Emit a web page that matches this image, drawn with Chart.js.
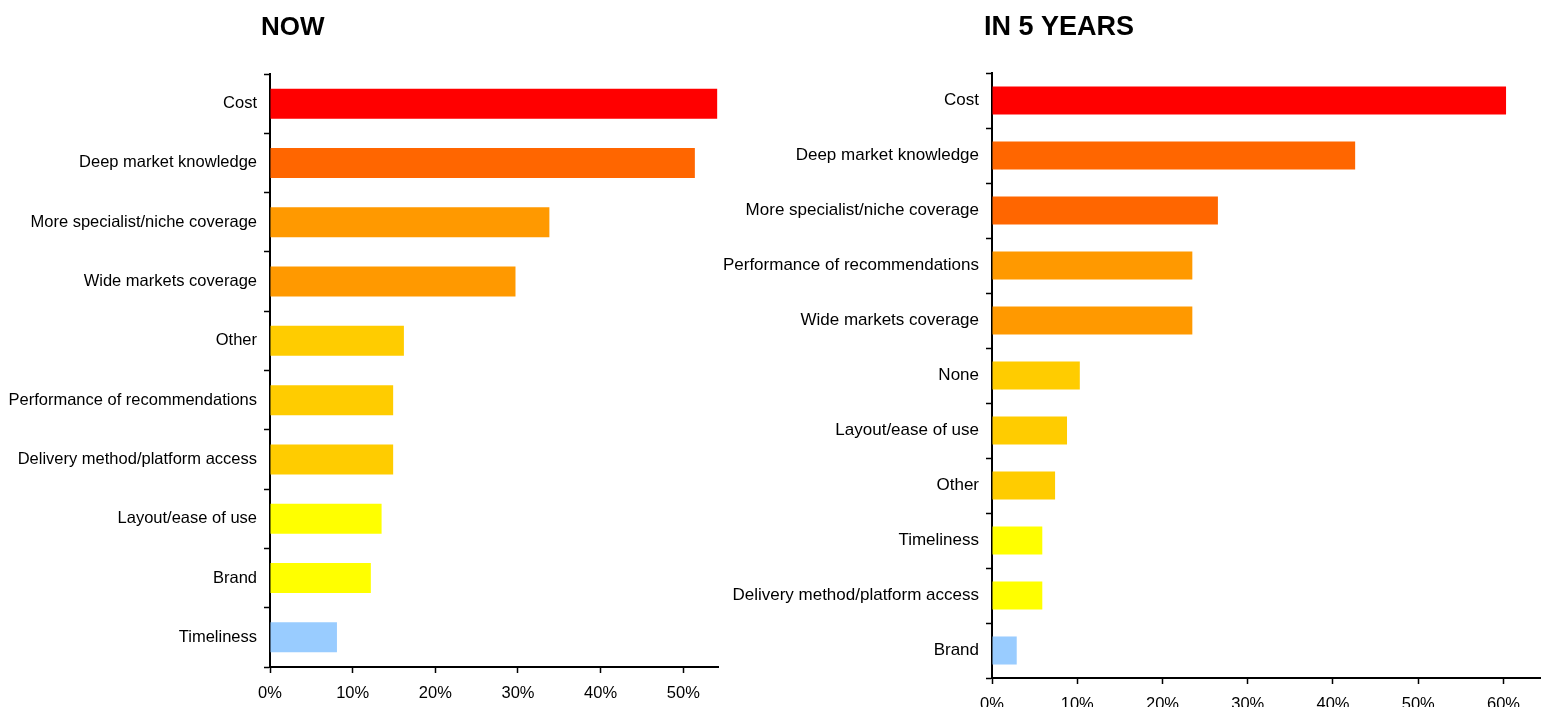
<!DOCTYPE html>
<html>
<head>
<meta charset="utf-8">
<script src="https://cdn.jsdelivr.net/npm/chart.js@4.4.1/dist/chart.umd.min.js"></script>
<style>
  html, body { margin: 0; padding: 0; background: #fff; overflow: hidden; }
  #wrap { position: relative; width: 1541px; height: 707px; }
  .panel { position: absolute; top: 0; }
  #nowPanel { left: 0; }
  #futurePanel { left: 720px; }
</style>
</head>
<body>
<div id="wrap">
  <div class="panel" id="nowPanel"><canvas id="nowChart" width="740" height="707"></canvas></div>
  <div class="panel" id="futurePanel"><canvas id="futureChart" width="821" height="707"></canvas></div>
</div>
<script>
// share of respondents (%), current priorities
const nowLabels = ['Cost', 'Deep market knowledge', 'More specialist/niche coverage', 'Wide markets coverage',
    'Other', 'Performance of recommendations', 'Delivery method/platform access', 'Layout/ease of use',
    'Brand', 'Timeliness'];
const nowValues = [54.1, 51.4, 33.8, 29.7, 16.2, 14.9, 14.9, 13.5, 12.2, 8.1];
const nowColors = ['#ff0000', '#ff6600', '#ff9900', '#ff9900', '#ffcc00', '#ffcc00', '#ffcc00',
    '#ffff00', '#ffff00', '#99ccff'];

// share of respondents (%), priorities expected in five years
const futureLabels = ['Cost', 'Deep market knowledge', 'More specialist/niche coverage',
    'Performance of recommendations', 'Wide markets coverage', 'None', 'Layout/ease of use', 'Other',
    'Timeliness', 'Delivery method/platform access', 'Brand'];
const futureValues = [60.3, 42.6, 26.5, 23.5, 23.5, 10.3, 8.8, 7.4, 5.9, 5.9, 2.9];
const futureColors = ['#ff0000', '#ff6600', '#ff6600', '#ff9900', '#ff9900', '#ffcc00', '#ffcc00',
    '#ffcc00', '#ffff00', '#ffff00', '#99ccff'];

const FONT = '"Liberation Sans", Arial, sans-serif';

// bold heading drawn just left of the plot area
const panelTitle = {
    id: 'panelTitle',
    afterDraw(chart, args, opts) {
        const ctx = chart.ctx;
        ctx.save();
        ctx.font = 'bold ' + opts.size + 'px ' + FONT;
        ctx.fillStyle = '#000';
        ctx.textBaseline = 'alphabetic';
        ctx.textAlign = 'left';
        ctx.fillText(opts.text, chart.chartArea.left + opts.dx, 35);
        ctx.restore();
    }
};

function drawPanel(id, title, labels, values, colors, cfg) {
    const ctx = document.getElementById(id).getContext('2d');
    return new Chart(ctx, {
        type: 'bar',
        data: {
            labels: labels,
            datasets: [{
                data: values,
                backgroundColor: colors,
                borderWidth: 0,
                barPercentage: cfg.barPct,
                categoryPercentage: 1
            }]
        },
        options: {
            indexAxis: 'y',
            responsive: false,
            animation: false,
            layout: {
                padding: { top: cfg.top, right: cfg.right, left: 0, bottom: 0 }
            },
            scales: {
                x: {
                    min: 0,
                    max: cfg.max,
                    afterFit(scale) { scale.height = cfg.xHeight; },
                    ticks: {
                        stepSize: 10,
                        includeBounds: false,
                        padding: 11,
                        color: '#000',
                        font: { family: FONT, size: cfg.tickSize },
                        callback: v => v + '%'
                    },
                    grid: {
                        drawOnChartArea: false,
                        tickLength: 6,
                        tickWidth: 1.5,
                        tickColor: '#000'
                    },
                    border: { color: '#000', width: 2 }
                },
                y: {
                    afterFit(scale) { scale.width = cfg.yWidth; },
                    ticks: {
                        padding: 7,
                        color: '#000',
                        font: { family: FONT, size: cfg.labelSize }
                    },
                    grid: {
                        offset: true,
                        drawOnChartArea: false,
                        tickLength: 6,
                        tickWidth: 1.5,
                        tickColor: '#000'
                    },
                    border: { color: '#000', width: 2 }
                }
            },
            plugins: {
                legend: { display: false },
                tooltip: { enabled: false },
                panelTitle: { text: title, size: cfg.titleSize, dx: cfg.titleDx }
            }
        },
        plugins: [panelTitle]
    });
}

drawPanel('nowChart', 'NOW', nowLabels, nowValues, nowColors, {
    top: 74, right: 22, yWidth: 270, xHeight: 40, max: 54.2,
    barPct: 0.506, labelSize: 16.5, tickSize: 16.5, titleSize: 26, titleDx: -9
});

drawPanel('futureChart', 'IN 5 YEARS', futureLabels, futureValues, futureColors, {
    top: 73, right: 0, yWidth: 272, xHeight: 29, max: 64.4,
    barPct: 0.51, labelSize: 17, tickSize: 16.5, titleSize: 27, titleDx: -8
});
</script>
</body>
</html>
